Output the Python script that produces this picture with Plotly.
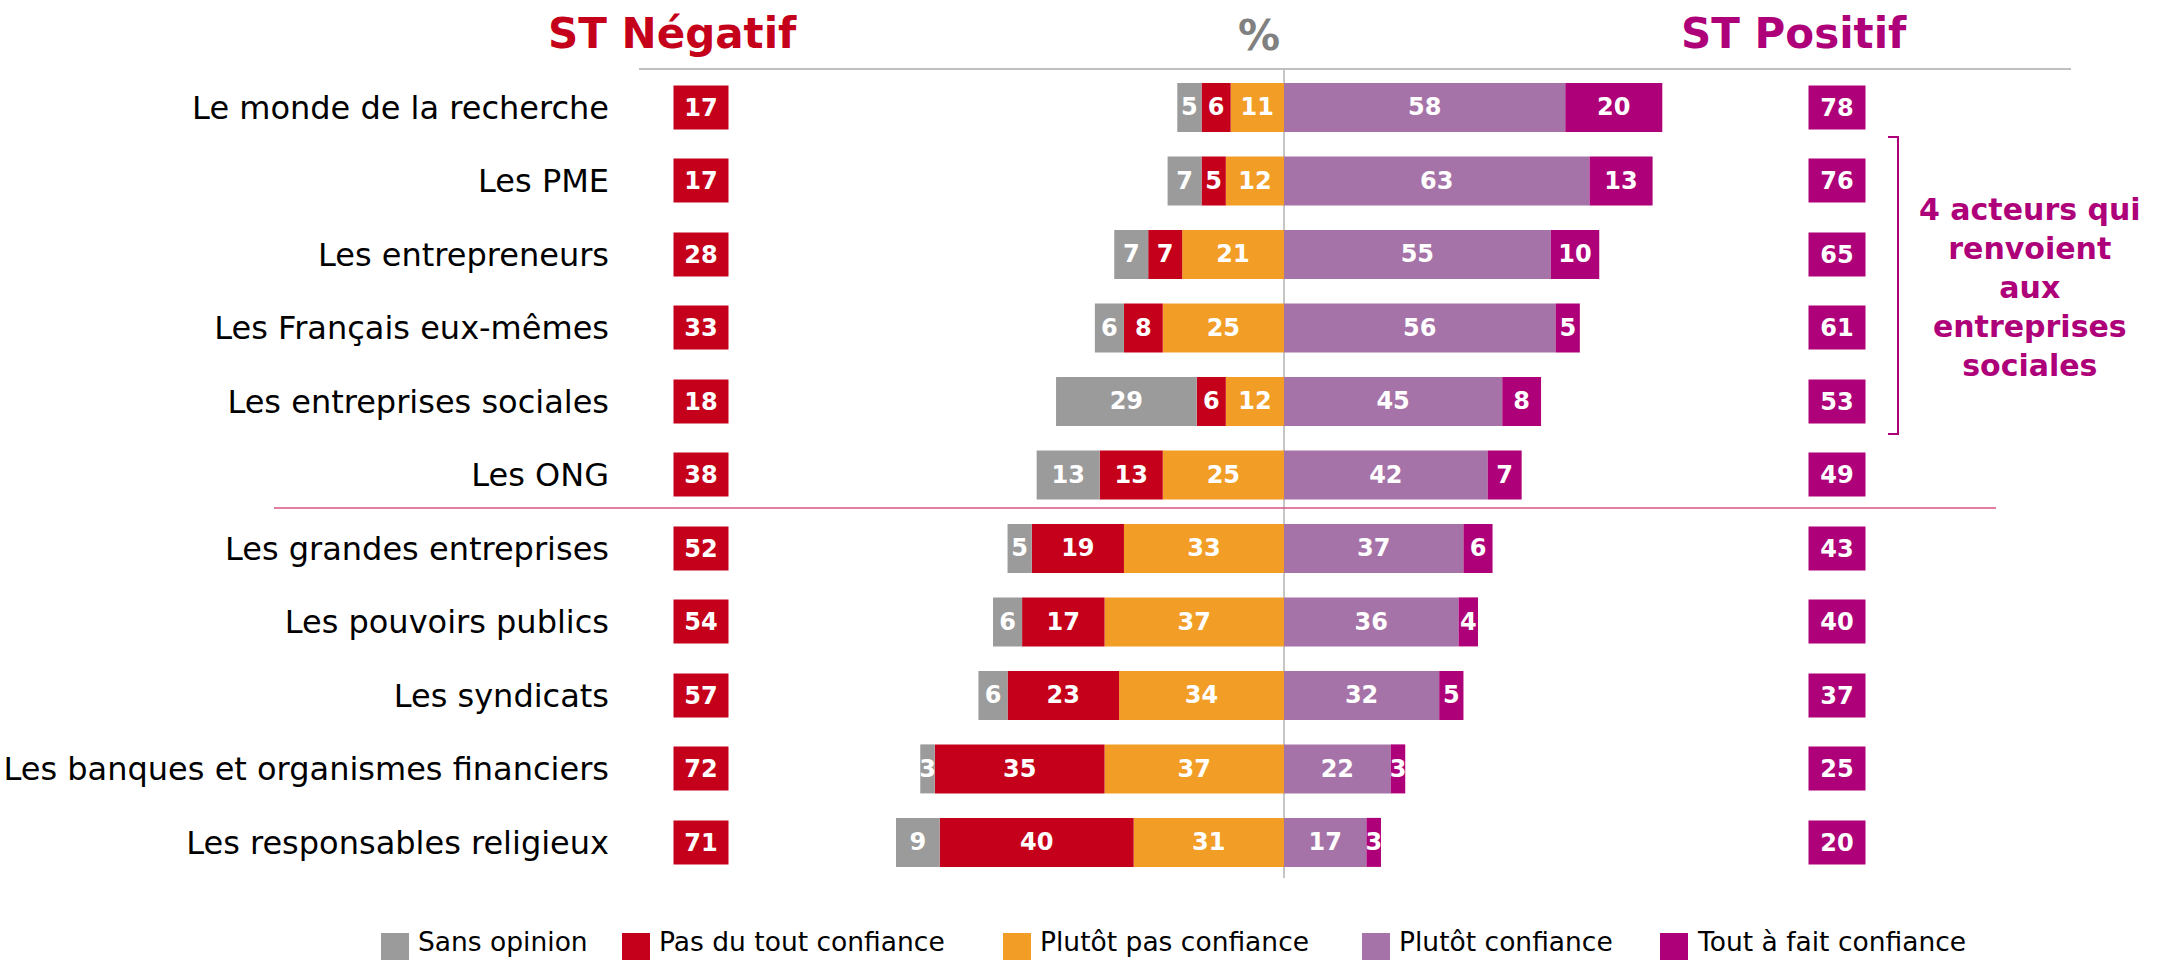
import plotly.graph_objects as go

categories = ["Le monde de la recherche", "Les PME", "Les entrepreneurs",
              "Les Français eux-mêmes", "Les entreprises sociales", "Les ONG",
              "Les grandes entreprises", "Les pouvoirs publics", "Les syndicats",
              "Les banques et organismes financiers", "Les responsables religieux"]
sans_opinion = [5, 7, 7, 6, 29, 13, 5, 6, 6, 3, 9]
pas_du_tout = [6, 5, 7, 8, 6, 13, 19, 17, 23, 35, 40]
plutot_pas = [11, 12, 21, 25, 12, 25, 33, 37, 34, 37, 31]
plutot = [58, 63, 55, 56, 45, 42, 37, 36, 32, 22, 17]
tout_a_fait = [20, 13, 10, 5, 8, 7, 6, 4, 5, 3, 3]
st_negatif = [17, 17, 28, 33, 18, 38, 52, 54, 57, 72, 71]
st_positif = [78, 76, 65, 61, 53, 49, 43, 40, 37, 25, 20]
series_names = ["Sans opinion", "Pas du tout confiance", "Plutôt pas confiance",
                "Plutôt confiance", "Tout à fait confiance"]
bracket_note = "4 acteurs qui<br>renvoient<br>aux<br>entreprises<br>sociales"

C_GRAY = "#9B9B9B"
C_RED = "#C5001A"
C_ORANGE = "#F29D26"
C_PURPLE = "#A673A8"
C_MAGENTA = "#AE0079"
FONT = "DejaVu Sans"

W, H = 2158, 960
CX = 1284.0          # pixel position of 0
PPU = 4.85           # pixels per percent
xmin = -CX / PPU
xmax = (W - CX) / PPU
PITCH = 73.5
TOP = 107.4
r0 = -TOP / PITCH
r1 = r0 + H / PITCH


def px2x(p):
    return (p - CX) / PPU


def py2paper(p):
    return 1 - p / H


fig = go.Figure()

neg_series = [(series_names[2], plutot_pas, C_ORANGE),
              (series_names[1], pas_du_tout, C_RED),
              (series_names[0], sans_opinion, C_GRAY)]
pos_series = [(series_names[3], plutot, C_PURPLE),
              (series_names[4], tout_a_fait, C_MAGENTA)]

for name, vals, col in neg_series:
    fig.add_trace(go.Bar(
        y=categories, x=[-v for v in vals], orientation="h", name=name,
        marker=dict(color=col, line=dict(width=0)),
        text=[str(v) for v in vals], textposition="inside", insidetextanchor="middle",
        textangle=0, constraintext="none",
        textfont=dict(family=FONT, size=24, color="white", weight="bold"),
        width=0.667, showlegend=False, hoverinfo="skip"))
for name, vals, col in pos_series:
    fig.add_trace(go.Bar(
        y=categories, x=vals, orientation="h", name=name,
        marker=dict(color=col, line=dict(width=0)),
        text=[str(v) for v in vals], textposition="inside", insidetextanchor="middle",
        textangle=0, constraintext="none",
        textfont=dict(family=FONT, size=24, color="white", weight="bold"),
        width=0.667, showlegend=False, hoverinfo="skip"))

annotations = []
# ST boxes
for cat, v in zip(categories, st_negatif):
    annotations.append(dict(x=px2x(701), y=cat, xref="x", yref="y", text=f"<b>{v}</b>",
                            showarrow=False, bgcolor=C_RED, width=52, height=41,
                            font=dict(family=FONT, size=24, color="white")))
for cat, v in zip(categories, st_positif):
    annotations.append(dict(x=px2x(1837), y=cat, xref="x", yref="y", text=f"<b>{v}</b>",
                            showarrow=False, bgcolor=C_MAGENTA, width=54, height=41,
                            font=dict(family=FONT, size=24, color="white")))

# Headers
annotations.append(dict(x=px2x(672), y=py2paper(34), xref="x", yref="paper",
                        yanchor="middle", text="<b>ST Négatif</b>", showarrow=False,
                        font=dict(family=FONT, size=42, color=C_RED)))
annotations.append(dict(x=px2x(1259), y=py2paper(36), xref="x", yref="paper",
                        yanchor="middle", text="<b>%</b>", showarrow=False,
                        font=dict(family=FONT, size=42, color="#808080")))
annotations.append(dict(x=px2x(1794), y=py2paper(34), xref="x", yref="paper",
                        yanchor="middle", text="<b>ST Positif</b>", showarrow=False,
                        font=dict(family=FONT, size=42, color=C_MAGENTA)))
# Bracket note
annotations.append(dict(x=px2x(2030), y=py2paper(287), xref="x", yref="paper",
                        yanchor="middle", text=f"<b>{bracket_note}</b>", showarrow=False,
                        align="center",
                        font=dict(family=FONT, size=30, color=C_MAGENTA)))

shapes = []
# top grey line
shapes.append(dict(type="line", xref="x", yref="paper", x0=px2x(639), x1=px2x(2071),
                   y0=py2paper(69), y1=py2paper(69), line=dict(color="#BFBFBF", width=2)))
# centre line
shapes.append(dict(type="line", xref="x", yref="paper", x0=0, x1=0,
                   y0=py2paper(69), y1=py2paper(878), line=dict(color="#8C8C8C", width=1),
                   layer="below"))
# pink separator
shapes.append(dict(type="line", xref="x", yref="paper", x0=px2x(274), x1=px2x(1996),
                   y0=py2paper(508), y1=py2paper(508), line=dict(color="#D9537F", width=1.5)))
# bracket
bx0, bx1 = px2x(1888), px2x(1898)
by0, by1 = py2paper(137), py2paper(434)
shapes.append(dict(type="path", xref="x", yref="paper",
                   path=f"M {bx0},{by0} L {bx1},{by0} L {bx1},{by1} L {bx0},{by1}",
                   line=dict(color=C_MAGENTA, width=2)))

# Manual legend
legend_items = [(series_names[0], C_GRAY, 381), (series_names[1], C_RED, 622),
                (series_names[2], C_ORANGE, 1003), (series_names[3], C_PURPLE, 1362),
                (series_names[4], C_MAGENTA, 1660)]
for name, col, x0 in legend_items:
    shapes.append(dict(type="rect", xref="x", yref="paper", x0=px2x(x0), x1=px2x(x0 + 28),
                       y0=py2paper(933), y1=py2paper(960), fillcolor=col,
                       line=dict(width=0)))
    annotations.append(dict(x=px2x(x0 + 35), y=py2paper(941), xref="x", yref="paper",
                            text=name, showarrow=False, xanchor="left", yanchor="middle",
                            font=dict(family=FONT, size=26.5, color="black")))

fig.update_layout(
    width=W, height=H, margin=dict(l=0, r=0, t=0, b=0),
    paper_bgcolor="white", plot_bgcolor="white",
    barmode="relative", bargap=0.333,
    font=dict(family=FONT, color="black"),
    xaxis=dict(range=[xmin, xmax], visible=False, fixedrange=True),
    yaxis=dict(type="category", range=[r1, r0], anchor="free", position=609 / W,
               showgrid=False, zeroline=False, showline=False, ticks="",
               tickfont=dict(family=FONT, size=32, color="black"), fixedrange=True),
    annotations=annotations, shapes=shapes, showlegend=False,
)

fig.write_html("out.html", include_plotlyjs=True, config={"displayModeBar": False},
               post_script="document.body.style.margin='0';document.body.style.overflow='hidden';")
